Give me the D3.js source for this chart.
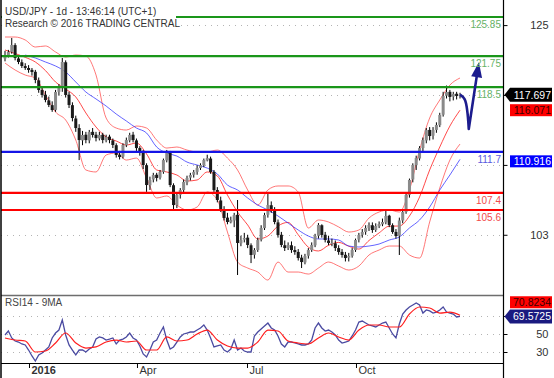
<!DOCTYPE html>
<html><head><meta charset="utf-8">
<script src="https://cdn.jsdelivr.net/npm/d3@7"></script>
<style>
body{margin:0;background:#fff}
svg{display:block}
text{font-family:"Liberation Sans",Arial,sans-serif}
</style>
</head><body>
<svg id="chart" width="554" height="378"></svg>
<script>
// ---------------- DATA ----------------
// daily-ish OHLC bars [open, high, low, close]
const candles = [
[121.5,122.3,121.2,121.86],[121.86,122.4,121.6,122.18],[122.2,123.65,122.0,122.91],[122.9,123.1,121.3,121.55],
[121.5,121.8,120.9,121.13],[121.1,121.4,120.5,120.71],[120.7,121.0,120.3,120.50],[120.5,120.8,120.0,120.29],
[120.3,120.5,119.7,120.08],[120.1,120.3,118.9,119.24],[119.2,119.5,117.9,118.19],[118.2,118.6,117.4,117.67],
[117.7,118.1,116.9,117.14],[117.1,117.5,116.4,116.62],[116.6,117.0,115.9,116.09],[116.1,118.2,115.9,117.98],
[118.0,118.8,117.6,118.40],[118.4,121.55,118.0,121.13],[121.1,121.3,117.4,117.67],[117.7,118.0,116.3,116.62],
[116.6,116.9,114.9,115.25],[115.2,115.5,113.8,114.20],[114.2,114.6,110.84,112.94],[112.9,113.9,112.4,113.47],
[113.5,113.8,112.6,112.94],[112.9,114.0,112.6,113.78],[113.8,114.2,113.2,113.47],[113.5,113.8,112.8,113.15],
[113.1,113.8,112.9,113.47],[113.5,113.7,112.6,112.94],[112.9,113.5,112.7,113.26],[113.3,113.5,112.6,112.94],
[112.9,113.1,112.1,112.42],[112.4,112.6,111.1,111.37],[111.4,111.8,110.9,111.16],[111.2,112.6,111.0,112.42],
[112.4,113.2,112.2,112.94],[112.9,113.7,112.7,113.47],[113.5,113.8,112.7,112.94],[112.9,113.1,111.8,112.10],
[112.1,112.3,111.3,111.68],[111.7,111.9,109.9,110.32],[110.3,110.5,107.5,108.22],[108.2,109.1,107.7,108.75],
[108.8,109.5,108.5,109.27],[109.3,109.5,108.6,108.96],[109.0,109.8,108.8,109.59],[109.6,111.0,109.4,110.84],
[110.8,111.9,110.6,111.68],[111.7,111.8,108.0,108.22],[108.2,108.4,105.5,106.12],[106.1,107.4,105.8,107.17],
[107.2,107.9,106.8,107.69],[107.7,108.8,107.4,108.54],[108.5,109.2,108.2,108.96],[109.0,109.5,108.7,109.27],
[109.3,109.8,109.0,109.59],[109.6,110.3,109.3,110.00],[110.0,110.5,109.8,110.32],[110.3,111.0,110.1,110.84],
[110.8,111.4,110.7,111.05],[111.0,111.2,109.4,109.59],[109.6,109.8,107.5,107.69],[107.7,108.0,106.4,106.65],
[106.6,107.0,105.4,105.60],[105.6,106.0,104.5,104.76],[104.8,105.3,104.1,104.34],[104.3,104.9,104.2,104.55],
[104.5,105.3,103.8,105.07],[105.1,106.65,98.78,102.14],[102.1,102.9,101.8,102.45],[102.5,103.2,102.2,102.66],
[102.7,103.0,101.6,101.93],[101.9,102.1,100.03,100.88],[100.9,101.6,100.5,101.40],[101.4,102.7,101.2,102.45],
[102.5,104.0,102.3,103.71],[103.7,105.3,103.5,105.07],[105.1,107.38,104.8,106.12],[106.1,106.5,105.3,105.60],
[105.6,105.9,104.1,104.34],[104.3,104.6,102.7,102.98],[103.0,103.3,101.7,101.93],[101.9,102.4,101.3,101.61],
[101.6,102.2,101.4,101.93],[101.9,102.3,101.1,101.40],[101.4,101.8,100.9,101.19],[101.2,101.5,100.3,100.56],
[100.6,100.9,99.51,100.14],[100.1,101.0,99.9,100.77],[100.8,101.6,100.5,101.40],[101.4,102.2,101.2,101.93],
[101.9,103.1,101.7,102.87],[102.9,104.23,102.6,104.03],[104.0,104.1,102.7,102.98],[103.0,103.3,102.2,102.45],
[102.4,102.9,101.9,102.14],[102.1,102.6,101.8,102.14],[102.1,102.4,101.3,101.61],[101.6,101.9,100.9,101.19],
[101.2,101.5,100.6,100.88],[100.9,101.2,100.2,100.56],[100.6,101.1,100.2,100.77],[100.8,101.6,100.6,101.40],
[101.4,102.6,101.2,102.45],[102.5,103.2,102.2,102.98],[103.0,103.6,102.7,103.29],[103.3,104.0,103.0,103.71],
[103.7,104.3,103.4,104.03],[104.0,104.3,103.2,103.50],[103.5,104.2,103.3,103.92],[103.9,104.4,103.7,104.13],
[104.1,104.7,103.9,104.34],[104.3,105.5,104.1,104.97],[105.0,105.1,103.8,104.03],[104.0,104.2,103.1,103.29],
[103.3,103.6,102.6,102.87],[102.9,104.8,100.88,104.5],[104.5,105.6,104.2,105.39],[105.4,107.4,105.2,107.17],
[107.2,108.9,106.9,108.75],[108.8,110.5,108.5,110.32],[110.3,111.3,109.8,111.05],[111.0,112.3,110.8,112.10],
[112.1,113.2,111.7,112.94],[112.9,114.2,112.6,113.99],[114.0,114.3,112.9,113.36],[113.4,114.3,113.0,113.99],
[114.0,114.8,113.7,114.52],[114.5,115.8,114.3,115.57],[115.6,118.0,115.4,117.56],[117.6,118.66,117.3,117.98],
[118.0,118.2,117.0,117.46],[117.5,118.0,117.1,117.77],[117.8,118.0,117.2,117.56],[117.6,117.9,117.3,117.697]
];

// indicator samples, one every 3 bars
const sampleEvery = 3;
const bollUpper = [123.75,123.75,123.44,122.70,122.81,122.18,121.65,121.86,121.76,119.77,
 115.25,114.20,113.99,114.41,114.20,112.94,112.10,112.21,111.89,111.69,
 111.69,111.89,111.05,109.80,107.70,106.12,107.70,108.12,108.12,107.49,
 103.71,104.55,104.34,103.82,103.29,103.50,104.76,105.39,105.60,105.39,
 107.70,111.89,115.25,117.14,118.71,119.45];
const bollMiddle = [122.39,122.02,121.62,121.13,120.23,119.03,118.29,117.46,115.78,114.31,
 113.26,112.84,112.42,112.63,111.48,109.80,109.59,109.27,108.64,108.75,
 109.59,109.17,107.17,105.39,104.03,102.56,102.87,103.92,104.30,103.00,
 101.70,101.30,101.90,102.20,101.80,101.50,102.40,103.20,103.90,103.92,
 104.97,106.96,109.80,112.21,114.41,116.071];
const bollLower = [121.02,120.29,119.76,119.45,117.67,115.88,115.04,112.94,109.80,109.59,
 111.37,111.58,110.84,111.05,108.96,106.86,107.07,106.12,105.60,105.91,
 107.49,106.65,103.29,100.14,99.51,99.09,98.25,100.14,99.09,99.09,
 98.88,99.51,100.14,99.72,99.30,99.72,100.88,101.40,101.82,101.82,
 100.88,100.56,104.34,107.91,110.84,112.52];
const movingAvg = [null,null,121.86,121.55,121.13,120.71,120.08,119.03,117.98,117.25,
 116.51,115.67,114.94,114.20,113.68,112.21,111.58,111.26,110.63,110.32,
 110.00,109.38,108.22,107.70,106.86,106.12,105.60,104.97,104.23,103.50,
 102.87,102.56,102.56,102.45,101.82,101.72,101.82,102.03,102.45,102.77,
 103.71,104.55,105.91,107.70,109.27,110.916];

// RSI(14), one per bar, and its 9-period MA sampled every 3 bars
const rsi = [48.9,53.3,45.6,42.2,41.1,38.9,37.8,32.2,25.6,20.0,
 26.7,28.9,32.2,35.6,45.6,51.1,54.4,65.6,48.9,37.8,
 32.2,26.7,32.2,32.2,30.0,33.3,35.6,44.4,46.7,45.6,
 43.3,44.4,45.6,38.9,43.3,44.4,46.7,51.1,45.6,43.3,
 36.7,27.8,24.4,32.2,41.1,43.3,51.1,57.8,43.3,33.3,
 35.6,41.1,46.7,50.0,51.1,52.2,52.2,54.4,56.7,60.0,
 54.4,45.6,35.6,36.7,37.8,32.2,30.0,33.3,43.3,32.2,
 34.4,31.1,30.0,30.0,47.8,52.2,55.6,58.9,62.2,56.7,
 54.4,47.8,38.9,35.6,41.1,41.1,40.0,38.9,37.8,37.8,
 38.9,43.3,56.7,62.2,56.7,53.3,54.4,52.2,48.9,43.3,
 40.0,41.1,42.2,47.8,54.4,63.3,64.4,62.2,60.0,58.9,
 57.8,60.0,62.2,63.3,56.7,50.0,45.6,61.1,72.2,76.7,
 80.0,82.2,84.4,82.2,73.3,76.7,75.6,73.3,74.4,76.7,
 80.0,74.4,73.3,72.2,68.9,69.5725];
const rsiMA = [45.6,43.3,42.2,30.0,31.1,40.0,51.1,40.0,34.4,35.6,
 41.1,43.3,41.1,42.2,32.2,32.2,46.7,42.2,43.3,50.0,
 54.4,43.3,36.7,34.4,34.4,41.1,54.4,53.3,42.2,40.0,
 38.9,45.6,51.1,46.7,43.3,54.4,60.0,60.0,57.8,57.8,
 72.2,80.0,78.9,73.3,74.4,70.8234];

// key levels
const levelValues = [125.85, 121.75, 118.5, 111.7, 107.4, 105.6];
const levelLabels = ["125.85", "121.75", "118.5", "111.7", "107.4", "105.6"];
const levelKinds  = ["resistance","resistance","resistance","pivot","support","support"];

// forecast path (bar index, price)
const forecastBars   = [135, 136.4, 137.6, 140.6];
const forecastPrices = [117.697, 117.2, 114.1, 121.1];

// axes
const priceGridValues = [125, 117.67, 110.33, 103];
const priceTickLabels = ["125", "", "", "103"];
const rsiGridValues = [70, 50, 30];
const rsiTickLabels = ["", "50", "30"];
const timeTickBars = [7.12, 39.16, 71.8, 104.14];
const timeTickLabels = ["2016", "Apr", "Jul", "Oct"];

const titleLines = ["USD/JPY - 1d - 13:46:14 (UTC+1)", "Research \u00a9 2016 TRADING CENTRAL"];
const rsiTitle = "RSI14 - 9MA";

// ---------------- DRAW ----------------
const svg = d3.select("#chart");
const W = 554, H = 378;
const axisX = 503.5;
const mainTop = 0, mainBottom = 295, rsiBottom = 363;

const x = d3.scaleLinear().domain([0, candles.length - 1]).range([5, 460]);
const y = d3.scaleLinear().domain([125.85, 105.6]).range([17, 210]);
const yr = d3.scaleLinear().domain([50, 30]).range([334, 352]);

const font = '"Liberation Sans",Arial,sans-serif';
const kindColor = {resistance:"#1a961a", pivot:"#1414e6", support:"#ff0000"};
const kindText  = {resistance:"#66b266", pivot:"#5a5ae0", support:"#f24a4a"};

svg.append("rect").attr("width", W).attr("height", H).attr("fill", "#fff");

const defs = svg.append("defs");
defs.append("clipPath").attr("id","mainClip").append("rect")
  .attr("x",1).attr("y",mainTop).attr("width",axisX-1).attr("height",mainBottom-mainTop);
defs.append("clipPath").attr("id","rsiClip").append("rect")
  .attr("x",1).attr("y",mainBottom+1).attr("width",axisX-1).attr("height",rsiBottom-mainBottom-1);

// grid lines (dotted)
const main = svg.append("g").attr("clip-path","url(#mainClip)");
main.selectAll("line.grid").data(priceGridValues).join("line")
  .attr("x1",1).attr("x2",axisX).attr("y1",d=>Math.round(y(d))+0.5).attr("y2",d=>Math.round(y(d))+0.5)
  .attr("stroke","#b4b4b4").attr("stroke-dasharray","1,5");

// bollinger bands & moving average
const sampleLine = sc => d3.line().defined(d=>d!=null)
  .x((d,k)=>x(k*sampleEvery)).y(d=>sc(d)).curve(d3.curveMonotoneX);
[bollUpper, bollLower].forEach(arr=>{
  main.append("path").datum(arr).attr("d", sampleLine(y))
    .attr("fill","none").attr("stroke","#ff4a4a").attr("stroke-opacity",0.75).attr("stroke-width",1);
});
main.append("path").datum(bollMiddle).attr("d", sampleLine(y))
  .attr("fill","none").attr("stroke","#ff2a2a").attr("stroke-opacity",0.85).attr("stroke-width",1);
main.append("path").datum(movingAvg).attr("d", sampleLine(y))
  .attr("fill","none").attr("stroke","#3030ff").attr("stroke-opacity",0.75).attr("stroke-width",1);

// candles
const cg = main.append("g");
cg.selectAll("line.wick").data(candles).join("line")
  .attr("x1",(d,i)=>x(i)).attr("x2",(d,i)=>x(i))
  .attr("y1",d=>y(d[1])).attr("y2",d=>y(d[2]))
  .attr("stroke","#000").attr("stroke-width",1);
cg.selectAll("rect.body").data(candles).join("rect")
  .attr("x",(d,i)=>x(i)-1.5).attr("width",3)
  .attr("y",d=>y(Math.max(d[0],d[3])))
  .attr("height",d=>Math.max(1,Math.abs(y(d[0])-y(d[3]))))
  .attr("fill",d=>d[3]>=d[0] ? "#8a8a8a" : "#1a1a1a");

// key levels
main.selectAll("line.level").data(levelValues).join("line")
  .attr("x1",1).attr("x2",axisX)
  .attr("y1",d=>y(d)).attr("y2",d=>y(d))
  .attr("stroke",(d,i)=>kindColor[levelKinds[i]]).attr("stroke-width",2.2);

// forecast arrow
const fpts = forecastBars.map((b,i)=>[x(b), y(forecastPrices[i])]);
const tip = fpts[fpts.length-1];
const prev = fpts[fpts.length-2];
const ang = Math.atan2(tip[1]-prev[1], tip[0]-prev[0]);
const headLen = 15, headW = 5.5;
const base = [tip[0]-headLen*Math.cos(ang), tip[1]-headLen*Math.sin(ang)];
const shaftPts = fpts.slice(0,-1).concat([[base[0]+2*Math.cos(ang), base[1]+2*Math.sin(ang)]]);
main.append("path")
  .attr("d", d3.line().curve(d3.curveCatmullRom)(shaftPts.slice(0,3)) + "L" + shaftPts[3].join(","))
  .attr("fill","none").attr("stroke","#1c1c8e").attr("stroke-width",2.6).attr("stroke-linejoin","round");
main.append("path")
  .attr("d", `M${tip[0]},${tip[1]}L${base[0]+headW*Math.sin(ang)},${base[1]-headW*Math.cos(ang)}L${base[0]-headW*Math.sin(ang)},${base[1]+headW*Math.cos(ang)}Z`)
  .attr("fill","#1c1c8e");

// level labels
main.selectAll("text.level").data(levelValues).join("text")
  .attr("x",501).attr("y",d=>y(d)+11)
  .attr("text-anchor","end").attr("font-size",10)
  .attr("fill",(d,i)=>kindText[levelKinds[i]])
  .text((d,i)=>levelLabels[i]);

// title block
svg.append("rect").attr("x",2).attr("y",0).attr("width",174).attr("height",30).attr("fill","#fff");
svg.selectAll("text.title").data(titleLines).join("text")
  .attr("x",5).attr("y",(d,i)=>15+i*12)
  .attr("font-size",10).attr("fill","#333").text(d=>d);

// ---------------- RSI panel ----------------
const rg = svg.append("g").attr("clip-path","url(#rsiClip)");
rg.selectAll("line.grid").data(rsiGridValues).join("line")
  .attr("x1",1).attr("x2",axisX).attr("y1",d=>Math.round(yr(d))+0.5).attr("y2",d=>Math.round(yr(d))+0.5)
  .attr("stroke","#b4b4b4").attr("stroke-dasharray","1,5");
rg.append("path").datum(rsi)
  .attr("d", d3.line().x((d,i)=>x(i)).y(d=>yr(d)))
  .attr("fill","none").attr("stroke","#2a2a90").attr("stroke-opacity",0.85).attr("stroke-width",1.3);
rg.append("path").datum(rsiMA)
  .attr("d", sampleLine(yr))
  .attr("fill","none").attr("stroke","#ff1e1e").attr("stroke-width",1.2);
svg.append("text").attr("x",5).attr("y",306).attr("font-size",10).attr("fill","#444").text(rsiTitle);

// panel separators / frame
svg.append("line").attr("x1",1).attr("x2",axisX).attr("y1",mainBottom+0.5).attr("y2",mainBottom+0.5)
  .attr("stroke","#6e6e6e").attr("stroke-width",1.6);
svg.append("line").attr("x1",1).attr("x2",axisX).attr("y1",rsiBottom+0.5).attr("y2",rsiBottom+0.5)
  .attr("stroke","#000").attr("stroke-width",1.2);
svg.append("line").attr("x1",1).attr("x2",1).attr("y1",0).attr("y2",H).attr("stroke","#000").attr("stroke-width",1.5);
svg.append("line").attr("x1",axisX).attr("x2",axisX).attr("y1",0).attr("y2",H).attr("stroke","#000").attr("stroke-width",1.2);

// right price axis
const yAxis = d3.axisRight(y).tickValues(priceGridValues).tickSize(4)
  .tickFormat((d,i)=>priceTickLabels[i]);
const ya = svg.append("g").attr("transform",`translate(${axisX},0)`).call(yAxis);
const yrAxis = d3.axisRight(yr).tickValues(rsiGridValues).tickSize(4)
  .tickFormat((d,i)=>rsiTickLabels[i]);
const yra = svg.append("g").attr("transform",`translate(${axisX},0)`).call(yrAxis);
[ya, yra].forEach(g=>{
  g.select(".domain").remove();
  g.selectAll(".tick line").attr("stroke","#000");
  g.selectAll(".tick text").attr("x",45).attr("text-anchor","end")
    .attr("font-family",font).attr("font-size",11).attr("fill","#333");
});

// bottom time axis
const xAxis = d3.axisBottom(x).tickValues(timeTickBars).tickSize(5)
  .tickFormat((d,i)=>timeTickLabels[i]);
const xa = svg.append("g").attr("transform",`translate(0,${rsiBottom})`).call(xAxis);
xa.select(".domain").remove();
xa.selectAll(".tick line").attr("stroke","#000");
xa.selectAll(".tick text").attr("x",2).attr("y",3).attr("text-anchor","start")
  .attr("font-family",font).attr("font-size",11).attr("fill","#333")
  .attr("font-weight",(d,i)=>i===0?"bold":"normal");

// value tags
function tag(yc, label, fill, textFill, arrow){
  const g = svg.append("g");
  const h = 14, x0 = arrow ? axisX+1 : 510, xs = 510, x1 = 552;
  if (arrow) {
    g.append("path").attr("d",`M${x0},${yc}L${xs},${yc-h/2}L${x1},${yc-h/2}L${x1},${yc+h/2}L${xs},${yc+h/2}Z`).attr("fill",fill);
  } else {
    g.append("rect").attr("x",xs).attr("y",yc-h/2+1).attr("width",x1-xs).attr("height",h-2).attr("fill",fill);
  }
  g.append("text").attr("x",x1-1).attr("y",yc+4).attr("text-anchor","end")
    .attr("font-size",10.5).attr("fill",textFill).text(label);
}
const lastClose = candles[candles.length-1][3];
tag(y(lastClose), d3.format(".3f")(lastClose), "#000", "#fff", true);
tag(y(bollMiddle[bollMiddle.length-1]), d3.format(".3f")(bollMiddle[bollMiddle.length-1]), "#ff0000", "#3a0000", false);
tag(y(movingAvg[movingAvg.length-1]) + 2, d3.format(".3f")(movingAvg[movingAvg.length-1]), "#0000ff", "#fff", false);
const lastRsi = rsi[rsi.length-1], lastRsiMA = rsiMA[rsiMA.length-1];
tag(yr(lastRsiMA) - 13, d3.format(".4f")(lastRsiMA), "#ff0000", "#3a0000", false);
tag(yr(lastRsi), d3.format(".4f")(lastRsi), "#1a1a80", "#fff", true);
</script>
</body></html>
